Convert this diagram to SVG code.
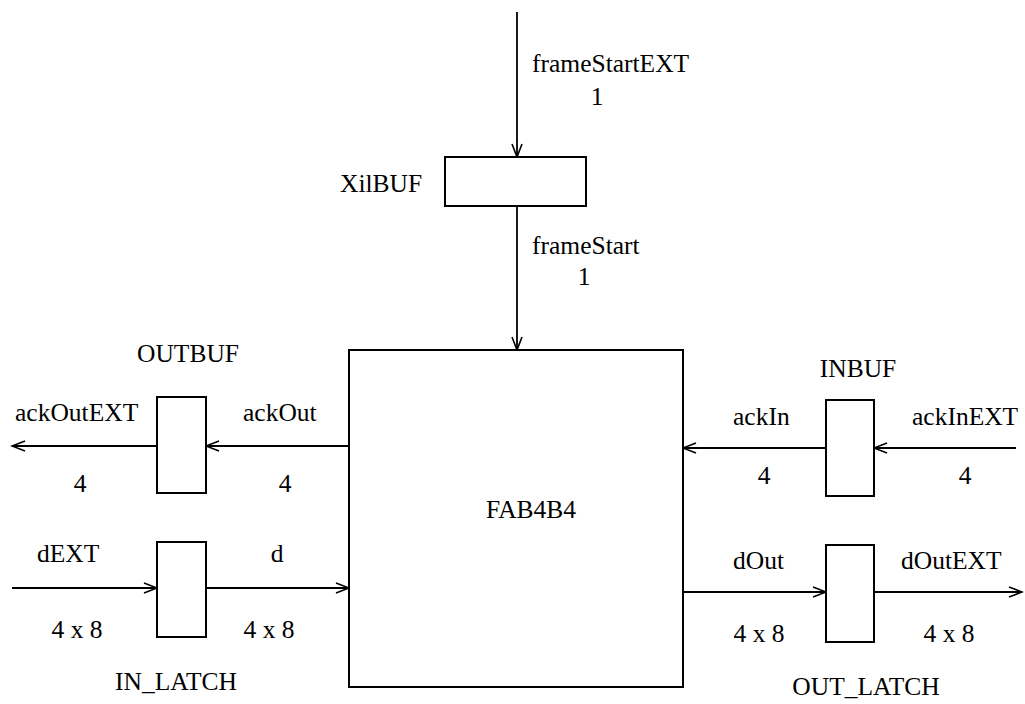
<svg xmlns="http://www.w3.org/2000/svg" width="1025" height="704" viewBox="0 0 1025 704">
<defs>
<marker id="arr" markerWidth="16" markerHeight="12" refX="14" refY="6" orient="auto" markerUnits="userSpaceOnUse">
<path d="M1,1 L14,6 L1,11" fill="none" stroke="#000" stroke-width="1.6"/>
</marker>
<style>
text{font-family:"Liberation Serif","Times New Roman",serif;font-size:25.5px;fill:#000}
.box{fill:#fff;stroke:#000;stroke-width:2}
.c{fill:none;stroke:#000;stroke-width:1.8;marker-end:url(#arr)}
.m{text-anchor:middle}
</style>
</defs>
<rect width="1025" height="704" fill="#fff"/>
<g id="connectors">
<line class="c" x1="517" y1="12" x2="517" y2="157"/>
<line class="c" x1="517" y1="206" x2="517" y2="350"/>
<line class="c" x1="349" y1="446" x2="206" y2="446"/>
<line class="c" x1="157" y1="446" x2="12" y2="446"/>
<line class="c" x1="12" y1="588" x2="157" y2="588"/>
<line class="c" x1="206" y1="588" x2="349" y2="588"/>
<line class="c" x1="1016" y1="448" x2="874" y2="448"/>
<line class="c" x1="826" y1="448" x2="683" y2="448"/>
<line class="c" x1="683" y1="592" x2="826" y2="592"/>
<line class="c" x1="874" y1="592" x2="1022" y2="592"/>
</g>
<g id="labels">
<text x="532" y="72">frameStartEXT</text>
<text x="597" y="105" class="m">1</text>
<text x="532" y="254">frameStart</text>
<text x="584" y="285" class="m">1</text>
<text x="15" y="421">ackOutEXT</text>
<text x="80" y="492" class="m">4</text>
<text x="243" y="421">ackOut</text>
<text x="285" y="492" class="m">4</text>
<text x="37" y="562">dEXT</text>
<text x="77" y="638" class="m">4 x 8</text>
<text x="277" y="562" class="m">d</text>
<text x="269" y="638" class="m">4 x 8</text>
<text x="733" y="425">ackIn</text>
<text x="764" y="484" class="m">4</text>
<text x="912" y="425">ackInEXT</text>
<text x="965" y="484" class="m">4</text>
<text x="733" y="569">dOut</text>
<text x="759" y="642" class="m">4 x 8</text>
<text x="901" y="569">dOutEXT</text>
<text x="949" y="642" class="m">4 x 8</text>
</g>
<g id="XilBUF">
<rect class="box" x="445" y="157" width="141" height="49"/>
<text x="340" y="192">XilBUF</text>
</g>
<g id="FAB4B4">
<rect class="box" x="349" y="350" width="334" height="337"/>
<text x="531" y="518" class="m">FAB4B4</text>
</g>
<g id="OUTBUF">
<rect class="box" x="157" y="397" width="49" height="96"/>
<text x="188" y="362" class="m">OUTBUF</text>
</g>
<g id="IN_LATCH">
<rect class="box" x="157" y="542" width="49" height="95"/>
<text x="176" y="690" class="m">IN_LATCH</text>
</g>
<g id="INBUF">
<rect class="box" x="826" y="400" width="48" height="96"/>
<text x="858" y="377" class="m">INBUF</text>
</g>
<g id="OUT_LATCH">
<rect class="box" x="826" y="545" width="48" height="97"/>
<text x="866" y="695" class="m">OUT_LATCH</text>
</g>
</svg>
